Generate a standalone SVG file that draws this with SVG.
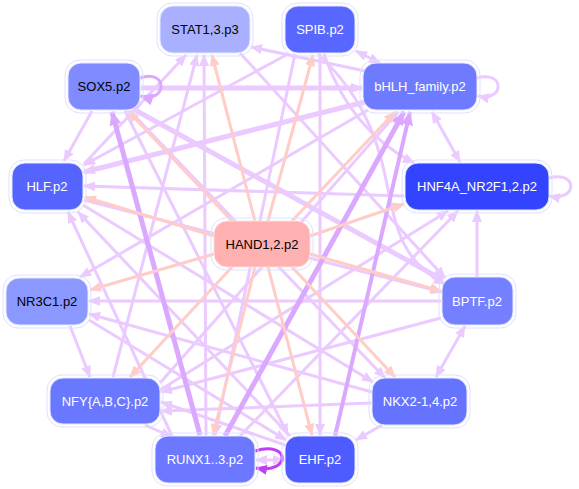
<svg xmlns="http://www.w3.org/2000/svg" width="579" height="489" viewBox="0 0 579 489">
<defs>
<style>
.e{fill:none;stroke:#ebcaff;stroke-width:3}
.t{stroke-width:5}
.d{stroke:#dba8ff}
.p{fill:none;stroke:#ffcdc8;stroke-width:3}
.k{fill:none;stroke:#bf3ff5;stroke-width:3}
.l{fill:none;stroke:#ebcaff;stroke-width:3;marker-end:url(#ml)}
.ring{fill:none;stroke:#dde0ff;stroke-width:1}
.box{stroke:#e6e8ff;stroke-width:1}
text{font-family:"Liberation Sans",Arial,sans-serif;font-size:13px;text-anchor:middle;dominant-baseline:central}
.w{fill:#ffffff}
.b{fill:#000000}
</style>
<marker id="ml" markerUnits="userSpaceOnUse" markerWidth="12" markerHeight="10" viewBox="0 0 12 10" refX="11" refY="5" orient="auto-start-reverse"><path d="M0,0 L12,5 L0,10 z" fill="#ebcaff"/></marker>
<marker id="md" markerUnits="userSpaceOnUse" markerWidth="14" markerHeight="12" viewBox="0 0 14 12" refX="13" refY="6" orient="auto-start-reverse"><path d="M0,0 L14,6 L0,12 z" fill="#dba8ff"/></marker>
<marker id="mp" markerUnits="userSpaceOnUse" markerWidth="12" markerHeight="10" viewBox="0 0 12 10" refX="11" refY="5" orient="auto"><path d="M0,0 L12,5 L0,10 z" fill="#ffcdc8"/></marker>
<marker id="mk" markerUnits="userSpaceOnUse" markerWidth="12" markerHeight="10" viewBox="0 0 12 10" refX="11" refY="5" orient="auto"><path d="M0,0 L12,5 L0,10 z" fill="#bf3ff5"/></marker>
</defs>
<rect width="579" height="489" fill="#ffffff"/>
<g id="edges">
<!-- lavender edges -->
<path class="e" marker-end="url(#ml)" d="M92,111 L64,161"/>
<path class="e" marker-end="url(#ml)" d="M370,72 L251,47"/>
<path class="e" marker-start="url(#ml)" marker-end="url(#ml)" d="M356,51 L380,63"/>
<path class="e" marker-end="url(#ml)" d="M320,54 L320,435"/>
<path class="e" marker-end="url(#ml)" d="M324,54 Q350,130 414,163"/>
<path class="e" marker-end="url(#ml)" d="M318,54 C420,150 360,240 445,284"/>
<path class="e" marker-start="url(#ml)" marker-end="url(#ml)" d="M432,112 L460,162"/>
<path class="e" marker-end="url(#ml)" d="M477,277 L477,211"/>
<path class="e" marker-start="url(#ml)" marker-end="url(#ml)" d="M465,326 L436,377"/>
<path class="e" marker-end="url(#ml)" d="M382,425 L356,440"/>
<path class="e" marker-end="url(#ml)" d="M145,425 L172,437"/>
<path class="e" marker-start="url(#ml)" marker-end="url(#ml)" d="M256,460 L284,460"/>
<path class="e" marker-end="url(#ml)" d="M84,164 L186,55"/>
<path class="e" marker-end="url(#ml)" d="M113,377 L197,55"/>
<path class="e" marker-end="url(#ml)" d="M206,435 L204,55"/>
<path class="e t" marker-end="url(#ml)" d="M365,102 L84,172"/>
<path class="e" marker-end="url(#ml)" d="M404,196 L84,186"/>
<path class="e" marker-end="url(#ml)" d="M288,54 L84,165"/>
<path class="e" marker-end="url(#ml)" d="M172,436 L68,212"/>
<path class="e" marker-end="url(#ml)" d="M290,436 L78,212"/>
<path class="e" marker-end="url(#ml)" d="M368,110 L80,277"/>
<path class="e" marker-end="url(#ml)" d="M441,301 L89,301"/>
<path class="e" marker-end="url(#ml)" d="M372,392 L89,314"/>
<path class="e" marker-end="url(#ml)" d="M70,326 L90,377"/>
<path class="e" marker-end="url(#ml)" d="M285,445 L161,402"/>
<path class="e" marker-end="url(#ml)" d="M371,403 L161,411"/>
<path class="e" marker-end="url(#ml)" d="M441,318 L161,392"/>
<path class="e" marker-end="url(#ml)" d="M125,111 L288,435"/>
<path class="e" marker-end="url(#ml)" d="M83,205 L373,382"/>
<path class="e t" marker-end="url(#ml)" d="M135,110 L443,280"/>
<path class="e" marker-end="url(#ml)" d="M240,53 L445,278"/>
<path class="e" marker-end="url(#ml)" d="M160,383 L398,112"/>
<path class="e" marker-end="url(#ml)" d="M160,390 L448,211"/>
<path class="e" marker-end="url(#ml)" d="M240,436 L458,211"/>
<path class="e" marker-end="url(#ml)" d="M295,54 L215,435"/>
<path class="e" marker-end="url(#ml)" d="M130,111 L385,378"/>
<path class="e" marker-end="url(#ml)" d="M84,200 L442,292"/>
<path class="e" marker-end="url(#ml)" d="M89,320 L286,440"/>
<path class="e t" marker-end="url(#ml)" d="M141,88 L362,88"/>
<!-- thick darker -->
<path class="e t d" marker-end="url(#md)" d="M200,435 L112,112"/>
<path class="e t d" marker-end="url(#md)" d="M225,436 L404,112"/>
<path class="e d" style="stroke-width:4" marker-end="url(#md)" d="M335,436 L410,112"/>
<!-- self loops -->
<path class="e d" marker-end="url(#md)" d="M140,78 C168,68 168,104 140,96"/>
<path class="e" marker-end="url(#ml)" d="M477,78 C505,70 505,102 478,96"/>
<path class="e" marker-end="url(#ml)" d="M549,178 C578,170 578,202 549,196"/>
<path class="k" marker-end="url(#mk)" d="M255,451 C290,440 292,474 256,468"/>
<!-- HAND pink -->
<path class="p" marker-end="url(#mp)" d="M255,221 L212,55"/>
<path class="p" marker-end="url(#mp)" d="M232,221 L128,111"/>
<path class="p" marker-end="url(#mp)" d="M268,221 L313,55"/>
<path class="p" marker-end="url(#mp)" d="M292,221 L395,112"/>
<path class="p" marker-end="url(#mp)" d="M214,236 L85,197"/>
<path class="p" marker-end="url(#mp)" d="M214,254 L90,290"/>
<path class="p" marker-end="url(#mp)" d="M310,236 L404,204"/>
<path class="p" marker-end="url(#mp)" d="M310,254 L441,291"/>
<path class="p" marker-end="url(#mp)" d="M232,267 L130,377"/>
<path class="p" marker-end="url(#mp)" d="M255,267 L213,435"/>
<path class="p" marker-end="url(#mp)" d="M268,267 L312,435"/>
<path class="p" marker-end="url(#mp)" d="M292,267 L395,377"/>
</g>
<g id="n_stat"><rect class="ring" x="157" y="3" width="96" height="53" rx="15"/><rect class="box" x="160" y="6" width="90" height="47" rx="13" fill="#a9b0ff"/><text class="b" x="205" y="29.5">STAT1,3.p3</text></g>
<g id="n_spib"><rect class="ring" x="282" y="3" width="76" height="53" rx="15"/><rect class="box" x="285" y="6" width="70" height="47" rx="13" fill="#5867ff"/><text class="w" x="320" y="29.5">SPIB.p2</text></g>
<g id="n_sox5"><rect class="ring" x="65" y="60" width="78" height="53" rx="15"/><rect class="box" x="68" y="63" width="72" height="47" rx="13" fill="#7f8bff"/><text class="b" x="104" y="86.5">SOX5.p2</text></g>
<g id="n_bhlh"><rect class="ring" x="360" y="60" width="120" height="53" rx="15"/><rect class="box" x="363" y="63" width="114" height="47" rx="13" fill="#6e7bff"/><text class="w" x="420" y="86.5">bHLH_family.p2</text></g>
<g id="n_hlf"><rect class="ring" x="9" y="160" width="77" height="53" rx="15"/><rect class="box" x="12" y="163" width="71" height="47" rx="13" fill="#5563ff"/><text class="w" x="47" y="186.5">HLF.p2</text></g>
<g id="n_hnf4a"><rect class="ring" x="402" y="160" width="150" height="53" rx="15"/><rect class="box" x="405" y="163" width="144" height="47" rx="13" fill="#3344ff"/><text class="w" x="477" y="186.5">HNF4A_NR2F1,2.p2</text></g>
<g id="n_hand"><rect class="ring" x="211" y="218" width="102" height="52" rx="15"/><rect x="214" y="221" width="96" height="46" rx="13" fill="#ffb0b0" stroke="#ffe0e0"/><text class="b" x="262" y="244.5">HAND1,2.p2</text></g>
<g id="n_nr3c1"><rect class="ring" x="3" y="275" width="88" height="53" rx="15"/><rect class="box" x="6" y="278" width="82" height="47" rx="13" fill="#8b98ff"/><text class="b" x="47" y="301.5">NR3C1.p2</text></g>
<g id="n_bptf"><rect class="ring" x="439" y="274" width="77" height="54" rx="15"/><rect class="box" x="442" y="277" width="71" height="48" rx="13" fill="#7480ff"/><text class="w" x="477" y="301.5">BPTF.p2</text></g>
<g id="n_nfy"><rect class="ring" x="47" y="375" width="116" height="52" rx="15"/><rect class="box" x="50" y="378" width="110" height="46" rx="13" fill="#6a77ff"/><text class="w" x="105" y="401.5">NFY{A,B,C}.p2</text></g>
<g id="n_nkx"><rect class="ring" x="369" y="375" width="101" height="53" rx="15"/><rect class="box" x="372" y="378" width="95" height="47" rx="13" fill="#6573ff"/><text class="w" x="420" y="401.5">NKX2-1,4.p2</text></g>
<g id="n_runx"><rect class="ring" x="152" y="433" width="106" height="53" rx="15"/><rect class="box" x="155" y="436" width="100" height="47" rx="13" fill="#6b78ff"/><text class="w" x="205" y="459.5">RUNX1..3.p2</text></g>
<g id="n_ehf"><rect class="ring" x="282" y="433" width="76" height="53" rx="15"/><rect class="box" x="285" y="436" width="70" height="47" rx="13" fill="#4e5cff"/><text class="w" x="320" y="459.5">EHF.p2</text></g>
</svg>
